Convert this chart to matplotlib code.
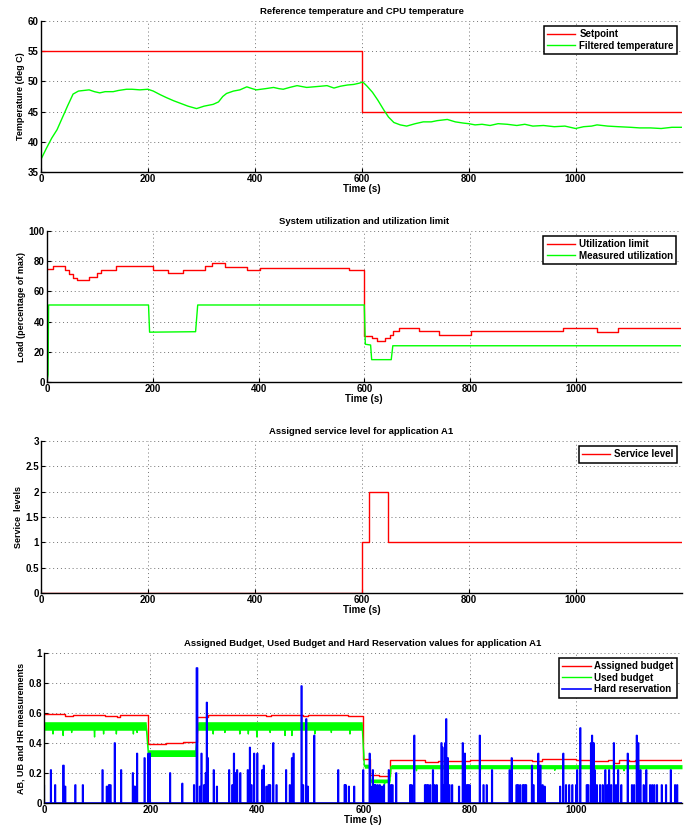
import matplotlib
matplotlib.use("Agg")
import matplotlib.pyplot as plt
import numpy as np
from matplotlib.ticker import FormatStrFormatter, MultipleLocator

plt.rcParams['font.family'] = ['Liberation Sans', 'DejaVu Sans']
plt.rcParams['font.weight'] = 'bold'
plt.rcParams['axes.titleweight'] = 'bold'
plt.rcParams['axes.labelweight'] = 'bold'
plt.rcParams['font.size'] = 7
plt.rcParams['axes.titlesize'] = 6.8
plt.rcParams['axes.labelsize'] = 6.5
plt.rcParams['xtick.labelsize'] = 7
plt.rcParams['ytick.labelsize'] = 7

T_END = 1199

# ---- panel 1: temperature
sp_t = [0, 600, T_END]
sp_v = [55, 45, 45]

temp_t = [0, 10, 20, 30, 40, 50, 60, 70, 80, 90, 100, 110, 120, 135, 145, 160,
          170, 185, 200, 210, 223, 235, 248, 260, 275, 291, 305, 322, 332, 340,
          347, 360, 372, 385, 395, 403, 420, 435, 445, 453, 465, 479, 497, 510,
          523, 535, 548, 560, 573, 585, 595, 602, 610, 620, 630, 641, 650, 660,
          672, 684, 700, 715, 730, 741, 760, 775, 790, 800, 812, 825, 840, 855,
          872, 890, 905, 920, 940, 960, 980, 1000, 1015, 1030, 1040, 1060, 1080,
          1103, 1120, 1140, 1160, 1180, 1199]
temp_v = [37.1, 38.9, 40.6, 42.0, 44.0, 46.0, 47.9, 48.4, 48.5, 48.6, 48.3,
          48.1, 48.3, 48.3, 48.5, 48.7, 48.7, 48.6, 48.7, 48.4, 47.8, 47.3,
          46.8, 46.4, 45.9, 45.5, 45.9, 46.2, 46.6, 47.5, 48.0, 48.4, 48.6,
          49.1, 48.8, 48.6, 48.8, 49.0, 48.8, 48.7, 49.0, 49.3, 49.0, 49.1,
          49.2, 49.3, 48.9, 49.2, 49.4, 49.5, 49.7, 49.9, 49.2, 48.2, 46.9,
          45.3, 44.1, 43.2, 42.8, 42.6, 43.0, 43.3, 43.3, 43.5, 43.7, 43.3,
          43.1, 43.0, 42.8, 42.9, 42.7, 43.0, 42.9, 42.7, 42.9, 42.6, 42.7,
          42.5, 42.6, 42.2, 42.5, 42.6, 42.8, 42.6, 42.5, 42.4, 42.3, 42.3,
          42.2, 42.4, 42.4]

# ---- panel 2: utilization
ul_t = [0, 12, 34, 42, 50, 56, 80, 94, 103, 130, 201, 229, 258, 299, 312,
        337, 378, 403, 572, 600, 615, 625, 640, 648, 655, 665, 703, 742, 801,
        975, 1040, 1080, T_END]
ul_v = [74.8, 76.5, 74.0, 71.5, 69.0, 67.3, 69.5, 72.0, 74.0, 76.5, 74.5,
        72.5, 74.5, 77.0, 78.8, 76.3, 74.0, 75.8, 74.0, 30.7, 29.2, 27.0,
        29.2, 31.3, 33.5, 35.6, 33.5, 30.9, 33.5, 35.6, 33.1, 35.5, 35.5]

mu_t = [0, 2, 3, 192, 194, 281, 285, 600, 602, 612, 614, 651, 654, T_END]
mu_v = [0, 5, 51, 51, 33, 33.3, 51, 51, 25, 24.5, 14.8, 14.8, 24, 24]

# ---- panel 3: service level
sl_t = [0, 600, 613, 650, T_END]
sl_v = [0, 1, 2, 1, 1]

# ---- panel 4: budgets
ab_t = [0, 40, 55, 115, 137, 143, 192, 196, 230, 262, 282, 287, 309, 418,
        427, 487, 496, 571, 580, 600, 612, 630, 650, 688, 716, 741, 800,
        900, 917, 935, 1000, 1030, 1060, 1072, 1080, 1100, 1110, 1150, T_END]
ab_v = [0.591, 0.580, 0.587, 0.580, 0.575, 0.590, 0.590, 0.394, 0.400,
        0.410, 0.405, 0.575, 0.590, 0.582, 0.590, 0.582, 0.590, 0.578,
        0.583, 0.292, 0.190, 0.180, 0.287, 0.284, 0.276, 0.280, 0.285,
        0.285, 0.280, 0.292, 0.290, 0.280, 0.288, 0.266, 0.285, 0.278,
        0.290, 0.285, 0.292]

ub_t = [0, 1, 192, 196, 285, 289, 598, 602, 612, 614, 650, 652, T_END]
ub_lo = [0.12, 0.485, 0.485, 0.31, 0.31, 0.485, 0.485, 0.232, 0.232, 0.135,
         0.135, 0.228, 0.228]
ub_hi = [0.12, 0.542, 0.542, 0.355, 0.355, 0.542, 0.542, 0.259, 0.259, 0.16,
         0.16, 0.256, 0.256]
ub_dip_t = [17, 36, 52, 95, 112, 136, 168, 175, 318, 340, 368, 384, 400, 425,
            453, 466, 509, 540, 575, 640, 700, 820, 960, 1090]
ub_dip_v = [0.46, 0.45, 0.47, 0.44, 0.46, 0.46, 0.46, 0.47, 0.46, 0.47, 0.46,
            0.46, 0.44, 0.47, 0.45, 0.45, 0.46, 0.47, 0.46, 0.125, 0.215,
            0.215, 0.218, 0.215]

hr_t = [0, 13, 21, 36, 37, 40, 59, 73, 110, 118, 122, 125, 133, 145, 167, 169,
        171, 175, 189, 196, 199, 237, 260, 282, 287, 288, 293, 296, 301, 304,
        306, 308, 319, 325, 348, 354, 357, 360, 363, 369, 383, 387, 390, 395,
        401, 410, 413, 418, 422, 425, 431, 437, 455, 462, 466, 469, 484, 487,
        493, 496, 508, 553, 565, 567, 573, 583, 600, 612, 614, 618, 621, 623,
        627, 631, 635, 639, 648, 652, 655, 662, 688, 691, 696, 716, 719, 722,
        726, 731, 734, 738, 747, 749, 751, 754, 756, 759, 762, 767, 780, 787,
        791, 794, 797, 800, 819, 826, 832, 842, 875, 879, 888, 891, 895, 900,
        903, 906, 917, 920, 929, 933, 937, 941, 970, 976, 981, 987, 993, 1000,
        1002, 1008, 1020, 1023, 1028, 1030, 1033, 1035, 1039, 1045, 1050, 1055,
        1059, 1062, 1066, 1071, 1075, 1079, 1085, 1097, 1105, 1109, 1114, 1117,
        1121, 1127, 1132, 1139, 1143, 1147, 1152, 1161, 1169, 1178, 1186, 1190]
hr_v = [0.12, 0.22, 0.12, 0.25, 0.25, 0.11, 0.12, 0.12, 0.22, 0.11, 0.12,
        0.12, 0.40, 0.22, 0.20, 0.11, 0.11, 0.33, 0.30, 0.33, 0.33, 0.20,
        0.13, 0.12, 0.90, 0.90, 0.11, 0.33, 0.12, 0.20, 0.67, 0.30, 0.22,
        0.11, 0.22, 0.12, 0.33, 0.20, 0.22, 0.20, 0.22, 0.37, 0.12, 0.33,
        0.33, 0.22, 0.25, 0.11, 0.12, 0.12, 0.40, 0.12, 0.22, 0.12, 0.30,
        0.33, 0.78, 0.12, 0.56, 0.11, 0.45, 0.22, 0.12, 0.12, 0.11, 0.11,
        0.22, 0.33, 0.11, 0.22, 0.12, 0.12, 0.12, 0.12, 0.11, 0.12, 0.22,
        0.12, 0.12, 0.20, 0.12, 0.12, 0.45, 0.12, 0.12, 0.12, 0.12, 0.22,
        0.12, 0.12, 0.40, 0.37, 0.12, 0.40, 0.56, 0.30, 0.12, 0.12, 0.11,
        0.40, 0.33, 0.12, 0.12, 0.12, 0.45, 0.12, 0.12, 0.22, 0.22, 0.30,
        0.12, 0.12, 0.12, 0.12, 0.12, 0.12, 0.25, 0.12, 0.33, 0.25, 0.12,
        0.11, 0.11, 0.33, 0.12, 0.12, 0.12, 0.12, 0.22, 0.50, 0.12, 0.12,
        0.40, 0.45, 0.40, 0.22, 0.12, 0.12, 0.12, 0.22, 0.12, 0.22, 0.12,
        0.40, 0.12, 0.22, 0.12, 0.33, 0.12, 0.12, 0.45, 0.40, 0.22, 0.12,
        0.22, 0.12, 0.12, 0.12, 0.12, 0.12, 0.12, 0.22, 0.12, 0.12]

W, H = 696, 830
fig = plt.figure(figsize=(W / 100, H / 100), dpi=100)


def make_ax(left, top, right, bottom):
    ax = fig.add_axes([left / W, 1 - bottom / H, (right - left) / W,
                       (bottom - top) / H])
    ax.spines['top'].set_visible(False)
    ax.spines['right'].set_visible(False)
    for s in ('left', 'bottom'):
        ax.spines[s].set_linewidth(1.0)
    ax.grid(True, linestyle=(0, (1, 3)), color='0.45', linewidth=0.7)
    ax.tick_params(direction='in', length=3, width=0.8, pad=1.5)
    ax.set_xlim(0, T_END)
    ax.xaxis.set_major_locator(MultipleLocator(200))
    ax.set_xlabel('Time (s)', labelpad=0, fontsize=7)
    return ax


def legend(ax):
    lg = ax.legend(loc='upper right', fancybox=False, framealpha=1,
                   edgecolor='black', handlelength=2.9, handletextpad=0.4,
                   borderpad=0.35, labelspacing=0.15, borderaxespad=0.5,
                   fontsize=7)
    lg.get_frame().set_linewidth(1.1)


# panel 1
ax1 = make_ax(41, 21, 682, 172)
ax1.plot(sp_t, sp_v, color='red', lw=1, drawstyle='steps-post', label='Setpoint')
ax1.plot(temp_t, temp_v, color='#00ff00', lw=1, label='Filtered temperature')
ax1.set_ylim(35, 60)
ax1.set_ylabel('Temperature (deg C)', labelpad=2)
ax1.set_title('Reference temperature and CPU temperature', pad=5)
legend(ax1)

# panel 2
ax2 = make_ax(47, 231, 681, 382)
ax2.plot(ul_t, ul_v, color='red', lw=1, drawstyle='steps-post', label='Utilization limit')
ax2.plot(mu_t, mu_v, color='#00ff00', lw=1, label='Measured utilization')
ax2.set_ylim(0, 100)
ax2.yaxis.set_major_locator(MultipleLocator(20))
ax2.set_ylabel('Load (percentage of max)', labelpad=2)
ax2.set_title('System utilization and utilization limit', pad=5)
legend(ax2)

# panel 3
ax3 = make_ax(41, 441, 682, 593)
ax3.plot(sl_t, sl_v, color='red', lw=1, drawstyle='steps-post', label='Service level')
ax3.set_ylim(0, 3)
ax3.yaxis.set_major_locator(MultipleLocator(0.5))
ax3.yaxis.set_major_formatter(FormatStrFormatter('%g'))
ax3.set_ylabel('Service  levels', labelpad=2)
ax3.set_title('Assigned service level for application A1', pad=5)
legend(ax3)

# panel 4
ax4 = make_ax(44, 653, 682, 803)
t_full = np.arange(0, T_END + 1)
lo = np.interp(t_full, ub_t, ub_lo)
hi = np.interp(t_full, ub_t, ub_hi)
used = (lo + hi) / 2
used[np.array(ub_dip_t)] = ub_dip_v
hard = np.zeros(len(t_full))
hard[np.array(hr_t)] = hr_v

ax4.plot(ab_t, ab_v, color='red', lw=1, drawstyle='steps-post', label='Assigned budget')
ax4.fill_between(t_full, lo, hi, color='#00ff00', lw=0)
ax4.plot(t_full, used, color='#00ff00', lw=1, label='Used budget')
ax4.plot(t_full, hard, color='blue', lw=1.2, drawstyle='steps-mid', label='Hard reservation')
ax4.set_ylim(0, 1)
ax4.yaxis.set_major_locator(MultipleLocator(0.2))
ax4.yaxis.set_major_formatter(FormatStrFormatter('%g'))
ax4.set_ylabel('AB, UB and HR measurements', labelpad=2)
ax4.set_title('Assigned Budget, Used Budget and Hard Reservation values for application A1', pad=5)
legend(ax4)

fig.savefig('out.png', dpi=100)
